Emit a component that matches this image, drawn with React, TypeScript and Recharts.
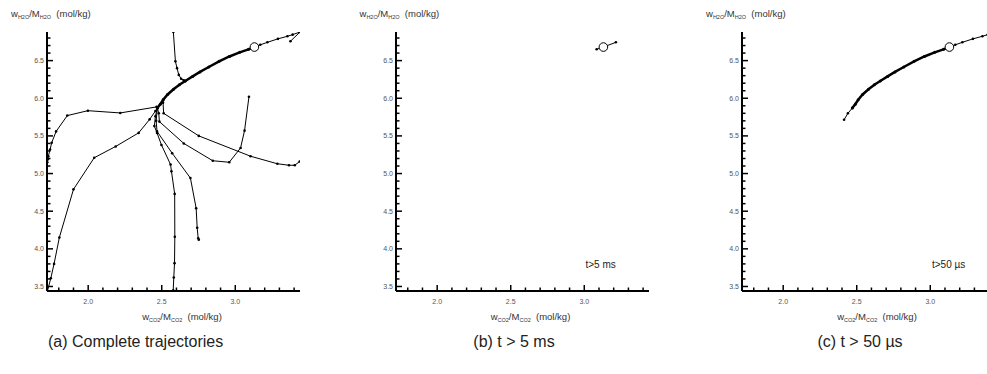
import React from "react";
import { ScatterChart, Scatter, XAxis, YAxis } from "recharts";

type Pt = { x: number; y: number };

// equilibrium state (open circle)
const equilibrium: Pt[] = [{ x: 3.13, y: 6.68 }];

// slow manifold that all trajectories collapse onto
const slowManifold: Pt[] = [
  { x: 2.47, y: 5.87 }, { x: 2.49, y: 5.92 }, { x: 2.51, y: 5.98 }, { x: 2.54, y: 6.05 },
  { x: 2.58, y: 6.12 }, { x: 2.62, y: 6.18 }, { x: 2.66, y: 6.23 }, { x: 2.71, y: 6.29 },
  { x: 2.76, y: 6.35 }, { x: 2.82, y: 6.415 }, { x: 2.89, y: 6.49 }, { x: 2.96, y: 6.555 },
  { x: 3.03, y: 6.61 }, { x: 3.09, y: 6.65 }, { x: 3.13, y: 6.68 },
];

// branch coming down from the upper-right corner
const upperBranch: Pt[] = [
  { x: 3.44, y: 6.88 }, { x: 3.39, y: 6.845 }, { x: 3.354, y: 6.823 }, { x: 3.29, y: 6.789 },
  { x: 3.218, y: 6.743 }, { x: 3.17, y: 6.71 }, { x: 3.13, y: 6.68 },
];
const trajHook: Pt[] = [{ x: 3.375, y: 6.757 }, { x: 3.44, y: 6.88 }];

const trajTop: Pt[] = [
  { x: 2.579, y: 6.88 }, { x: 2.593, y: 6.49 }, { x: 2.604, y: 6.4 }, { x: 2.616, y: 6.31 },
  { x: 2.632, y: 6.26 }, { x: 2.65, y: 6.24 }, { x: 2.66, y: 6.23 },
];
const trajLeft: Pt[] = [
  { x: 1.722, y: 5.15 }, { x: 1.726, y: 5.19 }, { x: 1.729, y: 5.23 }, { x: 1.741, y: 5.32 },
  { x: 1.752, y: 5.41 }, { x: 1.782, y: 5.56 }, { x: 1.858, y: 5.77 }, { x: 1.998, y: 5.835 },
  { x: 2.218, y: 5.805 }, { x: 2.465, y: 5.885 }, { x: 2.47, y: 5.87 },
];
const trajLowerLeft: Pt[] = [
  { x: 1.723, y: 3.44 }, { x: 1.746, y: 3.61 }, { x: 1.768, y: 3.8 }, { x: 1.804, y: 4.15 },
  { x: 1.9, y: 4.79 }, { x: 2.041, y: 5.21 }, { x: 2.187, y: 5.36 }, { x: 2.343, y: 5.54 },
  { x: 2.418, y: 5.72 }, { x: 2.457, y: 5.83 }, { x: 2.47, y: 5.87 },
];
const trajBottom: Pt[] = [
  { x: 2.578, y: 3.45 }, { x: 2.582, y: 3.62 }, { x: 2.587, y: 3.81 }, { x: 2.589, y: 4.16 },
  { x: 2.588, y: 4.73 }, { x: 2.566, y: 5.03 }, { x: 2.56, y: 5.12 }, { x: 2.498, y: 5.38 },
  { x: 2.468, y: 5.54 }, { x: 2.45, y: 5.63 }, { x: 2.457, y: 5.76 }, { x: 2.47, y: 5.87 },
];
const trajMid: Pt[] = [
  { x: 2.752, y: 4.12 }, { x: 2.748, y: 4.14 }, { x: 2.741, y: 4.28 }, { x: 2.734, y: 4.54 },
  { x: 2.695, y: 4.94 }, { x: 2.571, y: 5.27 }, { x: 2.468, y: 5.56 }, { x: 2.462, y: 5.7 },
  { x: 2.47, y: 5.87 },
];
const trajLoop: Pt[] = [
  { x: 3.093, y: 6.02 }, { x: 3.063, y: 5.57 }, { x: 3.036, y: 5.34 }, { x: 2.959, y: 5.15 },
  { x: 2.847, y: 5.17 }, { x: 2.65, y: 5.4 }, { x: 2.484, y: 5.69 }, { x: 2.48, y: 5.8 },
  { x: 2.47, y: 5.87 },
];
const trajRight: Pt[] = [
  { x: 3.438, y: 5.16 }, { x: 3.404, y: 5.11 }, { x: 3.365, y: 5.11 }, { x: 3.286, y: 5.13 },
  { x: 3.104, y: 5.23 }, { x: 2.752, y: 5.5 }, { x: 2.513, y: 5.8 }, { x: 2.509, y: 5.94 },
  { x: 2.51, y: 5.98 },
];

// late parts of the trajectories
const lateFiveMs: Pt[] = [{ x: 3.084, y: 6.65 }, { x: 3.13, y: 6.68 }, { x: 3.215, y: 6.743 }];
const lateFiftyUs: Pt[] = [{ x: 2.414, y: 5.715 }, { x: 2.44, y: 5.8 }, { x: 2.47, y: 5.87 }];

const xTicks = [1.8, 1.9, 2.0, 2.1, 2.2, 2.3, 2.4, 2.5, 2.6, 2.7, 2.8, 2.9, 3.0, 3.1, 3.2, 3.3, 3.4];
const yTicks = [
  3.5, 3.6, 3.7, 3.8, 3.9, 4.0, 4.1, 4.2, 4.3, 4.4, 4.5, 4.6, 4.7, 4.8, 4.9, 5.0, 5.1,
  5.2, 5.3, 5.4, 5.5, 5.6, 5.7, 5.8, 5.9, 6.0, 6.1, 6.2, 6.3, 6.4, 6.5, 6.6, 6.7, 6.8,
];

const X_DOMAIN: [number, number] = [1.72, 3.44];
const Y_DOMAIN: [number, number] = [3.44, 6.88];

const FONT = "'Liberation Sans', Arial, sans-serif";
const isMajor = (v: number) => Math.round(v * 10) % 5 === 0;

// anchor points of the inward tick marks, sitting on the axis lines
const xTickMarks = xTicks.map((v) => ({ x: v, y: Y_DOMAIN[0], major: isMajor(v) }));
const yTickMarks = yTicks.map((v) => ({ x: X_DOMAIN[0], y: v, major: isMajor(v) }));

const xTickShape = (p: any) => {
  const len = p.payload && p.payload.major ? 6 : 3.5;
  return <line x1={p.cx} x2={p.cx} y1={p.cy} y2={p.cy - len} stroke="#000" strokeWidth={1.5} />;
};
const yTickShape = (p: any) => {
  const len = p.payload && p.payload.major ? 6 : 3.5;
  return <line x1={p.cx} x2={p.cx + len} y1={p.cy} y2={p.cy} stroke="#000" strokeWidth={1.5} />;
};

const XTick = (props: any) => {
  const { x, y, payload } = props;
  const v = payload.value;
  if (!isMajor(v)) return <g />;
  return (
    <text x={x} y={y + 12.5} textAnchor="middle" fontSize={7} fontFamily={FONT} fill="#555">
      {v.toFixed(1)}
    </text>
  );
};

const YTick = (props: any) => {
  const { x, y, payload } = props;
  const v = payload.value;
  if (!isMajor(v)) return <g />;
  return (
    <text x={x - 3} y={y + 2.5} textAnchor="end" fontSize={7} fontFamily={FONT} fill="#555">
      {v.toFixed(1)}
    </text>
  );
};

const dot = (r: number) => (p: any) => <circle cx={p.cx} cy={p.cy} r={r} fill="#000" />;
const openCircle = (p: any) => <circle cx={p.cx} cy={p.cy} r={4.3} fill="#fff" stroke="#000" strokeWidth={1} />;

const thin = { stroke: "#000", strokeWidth: 1 };
const thick = { stroke: "#000", strokeWidth: 2.5 };

const sub = (t: string) => (
  <span style={{ fontSize: 5.5, position: "relative", top: 2 }}>{t}</span>
);

type Series = { data: Pt[]; width: "thin" | "thick" };

const Panel = ({ plotLeft, series, note }: { plotLeft: number; series: Series[]; note?: string }) => (
  <>
    <div style={{ position: "absolute", left: plotLeft - 50, top: 0 }}>
      <ScatterChart width={320} height={374} margin={{ top: 32, right: 17, bottom: 53, left: 10 }}>
        <XAxis
          type="number"
          dataKey="x"
          domain={X_DOMAIN}
          ticks={xTicks}
          interval={0}
          allowDataOverflow
          height={30}
          tickSize={0}
          tickMargin={0}
          tickLine={false}
          tick={<XTick />}
          axisLine={{ stroke: "#000", strokeWidth: 2 }}
        />
        <YAxis
          type="number"
          dataKey="y"
          domain={Y_DOMAIN}
          ticks={yTicks}
          interval={0}
          allowDataOverflow
          width={40}
          tickSize={0}
          tickMargin={0}
          tickLine={false}
          tick={<YTick />}
          axisLine={{ stroke: "#000", strokeWidth: 2 }}
        />
        <Scatter data={xTickMarks} shape={xTickShape} isAnimationActive={false} />
        <Scatter data={yTickMarks} shape={yTickShape} isAnimationActive={false} />
        {series.map((s, i) => (
          <Scatter
            key={i}
            data={s.data}
            fill="#000"
            line={s.width === "thick" ? thick : thin}
            shape={dot(s.width === "thick" ? 1.5 : 1.3)}
            isAnimationActive={false}
          />
        ))}
        <Scatter data={equilibrium} shape={openCircle} isAnimationActive={false} />
      </ScatterChart>
    </div>
    <div
      style={{
        position: "absolute",
        left: plotLeft - 36,
        top: 9,
        fontSize: 9.5,
        lineHeight: "10px",
        fontFamily: FONT,
        color: "#333",
        whiteSpace: "nowrap",
      }}
    >
      w{sub("H2O")}/M{sub("H2O")}&nbsp; (mol/kg)
    </div>
    <div
      style={{
        position: "absolute",
        left: plotLeft + 135,
        top: 312,
        transform: "translateX(-50%)",
        fontSize: 9.5,
        lineHeight: "10px",
        fontFamily: FONT,
        color: "#333",
        whiteSpace: "nowrap",
      }}
    >
      w{sub("CO2")}/M{sub("CO2")}&nbsp; (mol/kg)
    </div>
    {note && (
      <div
        style={{
          position: "absolute",
          left: plotLeft + 190,
          top: 260,
          fontSize: 10,
          lineHeight: "10px",
          fontFamily: FONT,
          color: "#222",
          whiteSpace: "nowrap",
        }}
      >
        {note}
      </div>
    )}
  </>
);

const captionStyle: React.CSSProperties = {
  position: "absolute",
  top: 334,
  fontSize: 16,
  lineHeight: "16px",
  fontFamily: FONT,
  color: "#222",
  whiteSpace: "nowrap",
};

const completeSeries: Series[] = [
  { data: trajTop, width: "thin" },
  { data: trajLeft, width: "thin" },
  { data: trajLowerLeft, width: "thin" },
  { data: trajBottom, width: "thin" },
  { data: trajMid, width: "thin" },
  { data: trajLoop, width: "thin" },
  { data: trajRight, width: "thin" },
  { data: trajHook, width: "thin" },
  { data: upperBranch, width: "thin" },
  { data: slowManifold, width: "thick" },
];

const fiveMsSeries: Series[] = [{ data: lateFiveMs, width: "thin" }];

const fiftyUsSeries: Series[] = [
  { data: lateFiftyUs, width: "thin" },
  { data: upperBranch, width: "thin" },
  { data: slowManifold, width: "thick" },
];

export default function App() {
  return (
    <div
      style={{
        position: "absolute",
        left: 0,
        top: 0,
        width: 987,
        height: 374,
        overflow: "hidden",
        background: "#fff",
      }}
    >
      <Panel plotLeft={47} series={completeSeries} />
      <Panel plotLeft={395.5} series={fiveMsSeries} note="t>5 ms" />
      <Panel plotLeft={742} series={fiftyUsSeries} note="t>50 µs" />
      <div style={{ ...captionStyle, left: 48 }}>(a) Complete trajectories</div>
      <div style={{ ...captionStyle, left: 514, transform: "translateX(-50%)" }}>(b) t &gt; 5 ms</div>
      <div style={{ ...captionStyle, left: 860, transform: "translateX(-50%)" }}>(c) t &gt; 50 µs</div>
    </div>
  );
}
